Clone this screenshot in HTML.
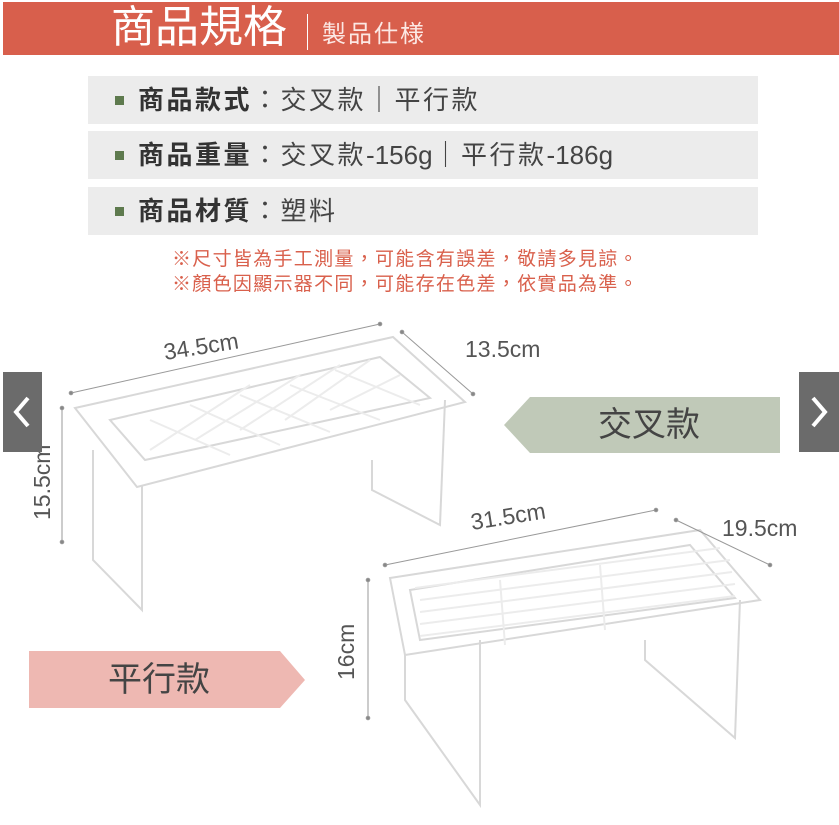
<!DOCTYPE html>
<html><head><meta charset="utf-8"><style>
body{margin:0;width:839px;height:825px;background:#fff;position:relative;overflow:hidden;font-family:"Liberation Sans","Noto Sans CJK TC",sans-serif}
.a{position:absolute;white-space:nowrap}
.row{position:absolute;left:88px;width:670px;height:48px;background:#ececec}
.row .sq{position:absolute;left:27px;top:20px;width:9px;height:9px;background:#5e7a4e}
.row .t{position:absolute;left:50px;top:6px;font-size:26px;letter-spacing:2.5px;color:#444;line-height:36px}
.row b{color:#333;font-weight:bold}
.n{letter-spacing:0}
</style></head><body>
<div class="a" style="left:3px;top:2px;width:836px;height:53px;background:#d85f4c"></div>
<div class="a" style="left:111px;top:2px;font-size:44px;line-height:52px;color:#fff">商品規格</div>
<div class="a" style="left:307px;top:14px;width:1px;height:36px;background:#fff"></div>
<div class="a" style="left:322px;top:19px;font-size:24px;letter-spacing:2px;line-height:32px;color:#fce8e4">製品仕様</div>

<div class="row" style="top:76px"><div class="sq"></div><div class="t"><b>商品款式</b>：交叉款｜平行款</div></div>
<div class="row" style="top:131px"><div class="sq"></div><div class="t"><b>商品重量</b>：交叉款<span class="n">-156g</span>｜平行款<span class="n">-186g</span></div></div>
<div class="row" style="top:187px"><div class="sq"></div><div class="t"><b>商品材質</b>：塑料</div></div>
<div class="a" style="left:172px;top:247px;font-size:19px;letter-spacing:1.3px;line-height:25px;color:#d9604c">※尺寸皆為手工測量，可能含有誤差，敬請多見諒。<br>※顏色因顯示器不同，可能存在色差，依實品為準。</div>

<svg class="a" style="left:0;top:0" width="839" height="825">
<g fill="none" stroke="#d8d8d8" stroke-width="2">
<polygon points="75,408 393,337 465,402 137,487" fill="#fff"/>
<polygon points="110,420 380,357 430,398 145,460"/>
<path d="M93,450 L93,560 L142,610 L142,485"/>
<path d="M372,460 L372,490 L440,525 L445,400"/>
<polygon points="390,578 700,530 760,600 405,655" fill="#fff"/>
<polygon points="410,590 690,545 735,598 420,640"/>
<path d="M405,655 L405,700 L480,805 L480,640"/>
<path d="M645,640 L645,660 L735,738 L740,600"/>
</g>
<g stroke="#ececec" stroke-width="2">
<path d="M150,450 L250,385 M195,440 L300,375 M240,430 L340,365 M285,420 L370,360 M330,410 L400,375 M150,420 L230,455 M190,405 L280,445 M240,395 L330,432 M290,385 L380,420 M335,370 L420,405"/>
<path d="M420,600 L730,560 M420,612 L732,572 M420,624 L735,584 M420,636 L735,596 M415,588 L720,548 M500,580 L505,645 M600,565 L605,630"/>
</g>
<g stroke="#999" stroke-width="1" fill="#888">
<line x1="71" y1="393" x2="380" y2="324"/><circle cx="71" cy="393" r="1.8"/><circle cx="380" cy="324" r="1.8"/>
<line x1="402" y1="332" x2="473" y2="394"/><circle cx="402" cy="332" r="1.8"/><circle cx="473" cy="394" r="1.8"/>
<line x1="62" y1="408" x2="62" y2="542"/><circle cx="62" cy="408" r="1.8"/><circle cx="62" cy="542" r="1.8"/>
<line x1="385" y1="565" x2="656" y2="510"/><circle cx="385" cy="565" r="1.8"/><circle cx="656" cy="510" r="1.8"/>
<line x1="676" y1="520" x2="770" y2="565"/><circle cx="676" cy="520" r="1.8"/><circle cx="770" cy="565" r="1.8"/>
<line x1="368" y1="580" x2="368" y2="718"/><circle cx="368" cy="580" r="1.8"/><circle cx="368" cy="718" r="1.8"/>
</g>
<g font-family="Liberation Sans, sans-serif" font-size="23" fill="#555">
<text x="165" y="360" transform="rotate(-9 165 360)">34.5cm</text>
<text x="465" y="357">13.5cm</text>
<text x="50" y="520" transform="rotate(-90 50 520)">15.5cm</text>
<text x="472" y="530" transform="rotate(-9 472 530)">31.5cm</text>
<text x="722" y="536">19.5cm</text>
<text x="354" y="680" transform="rotate(-90 354 680)">16cm</text>
</g>
<polygon points="504,425 530,397 780,397 780,453 530,453" fill="#c0c9b8"/>
<polygon points="29,651 280,651 305,680 280,708 29,708" fill="#eeb8b2"/>
<rect x="3" y="372" width="39" height="80" fill="#6b6b6b"/>
<rect x="799" y="372" width="40" height="80" fill="#6b6b6b"/>
<path d="M28,398 L16,412 L28,426" stroke="#fff" stroke-width="4" fill="none"/>
<path d="M813,398 L825,412 L813,426" stroke="#fff" stroke-width="4" fill="none"/>
</svg>
<div class="a" style="left:598px;top:404px;font-size:34px;line-height:42px;color:#444">交叉款</div>
<div class="a" style="left:108px;top:659px;font-size:34px;line-height:42px;color:#444">平行款</div>
</body></html>
